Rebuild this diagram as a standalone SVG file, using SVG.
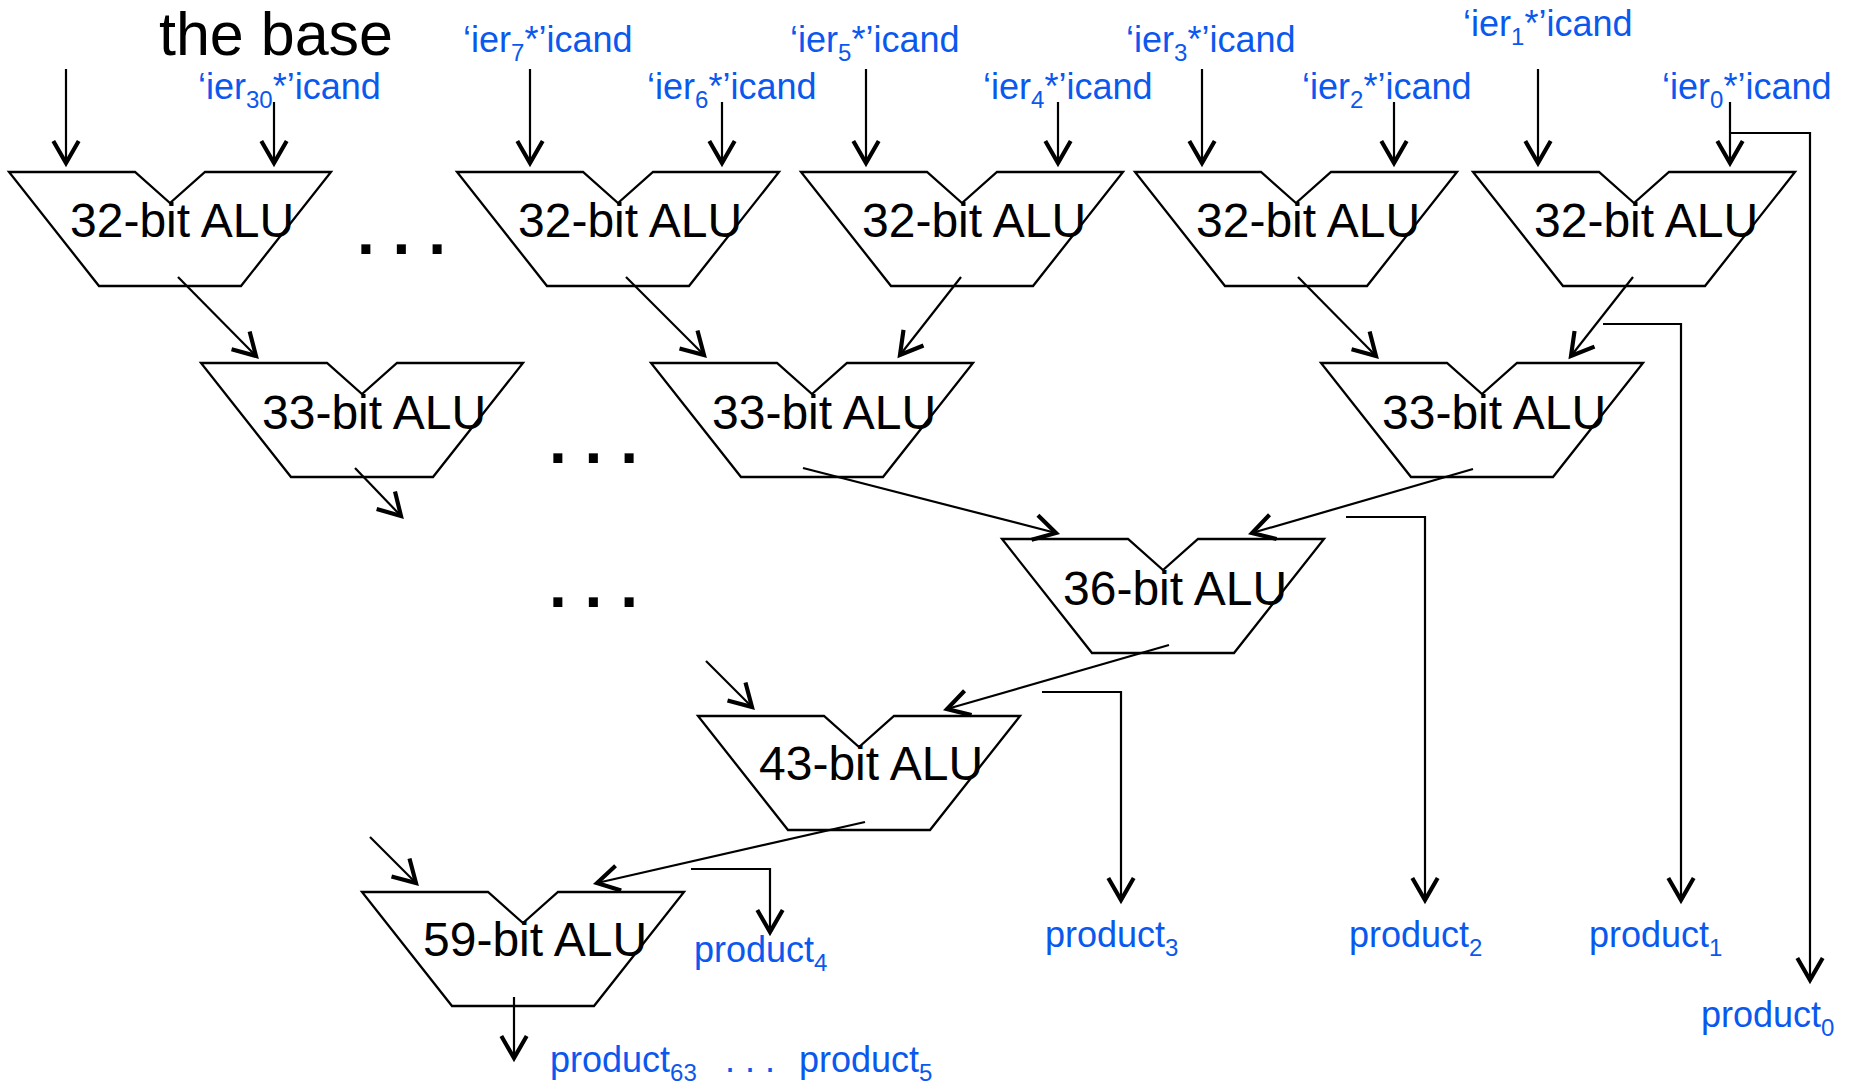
<svg xmlns="http://www.w3.org/2000/svg" xmlns:xlink="http://www.w3.org/1999/xlink" width="1855" height="1084" viewBox="0 0 1855 1084">
<style>
.alu{fill:none;stroke:#000;stroke-width:2.3;stroke-linejoin:miter}
.t{font-family:"Liberation Sans",Arial,sans-serif;font-size:48px;fill:#000}
.lbl{font-family:"Liberation Sans",Arial,sans-serif;font-size:36px;fill:#0A58EE}
.sub{font-size:24px}
.dots{font-family:"Liberation Sans",Arial,sans-serif;font-size:64px;font-weight:bold;fill:#000}
.c{fill:none;stroke:#000;stroke-width:2.2}
.a{marker-end:url(#ah)}
</style>
<defs>
<path id="alu" d="M0,0 H126 L161,31 L196,0 H322 L232,114 H90 Z"/>
<marker id="ah" markerUnits="userSpaceOnUse" markerWidth="30" markerHeight="30" viewBox="-22 -13 26 26" refX="0" refY="0" orient="auto">
<path d="M-19,-11 L0,0 L-19,11" fill="none" stroke="#000" stroke-width="3.6"/>
</marker>
</defs>
<rect width="1855" height="1084" fill="#fff"/>

<g id="labels">
<text class="t" x="159" y="55" style="font-size:61px">the base</text>
<text class="lbl" x="463" y="52">‘ier<tspan class="sub" dy="9">7</tspan><tspan dy="-9">*’icand</tspan></text>
<text class="lbl" x="198" y="99">‘ier<tspan class="sub" dy="9">30</tspan><tspan dy="-9">*’icand</tspan></text>
<text class="lbl" x="790" y="52">‘ier<tspan class="sub" dy="9">5</tspan><tspan dy="-9">*’icand</tspan></text>
<text class="lbl" x="647" y="99">‘ier<tspan class="sub" dy="9">6</tspan><tspan dy="-9">*’icand</tspan></text>
<text class="lbl" x="1126" y="52">‘ier<tspan class="sub" dy="9">3</tspan><tspan dy="-9">*’icand</tspan></text>
<text class="lbl" x="983" y="99">‘ier<tspan class="sub" dy="9">4</tspan><tspan dy="-9">*’icand</tspan></text>
<text class="lbl" x="1463" y="36">‘ier<tspan class="sub" dy="9">1</tspan><tspan dy="-9">*’icand</tspan></text>
<text class="lbl" x="1302" y="99">‘ier<tspan class="sub" dy="9">2</tspan><tspan dy="-9">*’icand</tspan></text>
<text class="lbl" x="1662" y="99">‘ier<tspan class="sub" dy="9">0</tspan><tspan dy="-9">*’icand</tspan></text>
<text class="lbl" x="694" y="962">product<tspan class="sub" dy="9">4</tspan></text>
<text class="lbl" x="1045" y="947">product<tspan class="sub" dy="9">3</tspan></text>
<text class="lbl" x="1349" y="947">product<tspan class="sub" dy="9">2</tspan></text>
<text class="lbl" x="1589" y="947">product<tspan class="sub" dy="9">1</tspan></text>
<text class="lbl" x="1701" y="1027">product<tspan class="sub" dy="9">0</tspan></text>
<text class="lbl" x="550" y="1072">product<tspan class="sub" dy="9">63</tspan></text>
<text class="lbl" x="725" y="1072">. . .</text>
<text class="lbl" x="799" y="1072">product<tspan class="sub" dy="9">5</tspan></text>
<text class="dots" x="357" y="254">. . .</text>
<text class="dots" x="549" y="463">. . .</text>
<text class="dots" x="549" y="607">. . .</text>
</g>

<g id="alu32-1"><use xlink:href="#alu" class="alu" x="9" y="172"/><text class="t" x="70" y="237">32-bit ALU</text></g>
<g id="alu32-2"><use xlink:href="#alu" class="alu" x="457" y="172"/><text class="t" x="518" y="237">32-bit ALU</text></g>
<g id="alu32-3"><use xlink:href="#alu" class="alu" x="801" y="172"/><text class="t" x="862" y="237">32-bit ALU</text></g>
<g id="alu32-4"><use xlink:href="#alu" class="alu" x="1135" y="172"/><text class="t" x="1196" y="237">32-bit ALU</text></g>
<g id="alu32-5"><use xlink:href="#alu" class="alu" x="1473" y="172"/><text class="t" x="1534" y="237">32-bit ALU</text></g>
<g id="alu33-1"><use xlink:href="#alu" class="alu" x="201" y="363"/><text class="t" x="262" y="429">33-bit ALU</text></g>
<g id="alu33-2"><use xlink:href="#alu" class="alu" x="651" y="363"/><text class="t" x="712" y="429">33-bit ALU</text></g>
<g id="alu33-3"><use xlink:href="#alu" class="alu" x="1321" y="363"/><text class="t" x="1382" y="429">33-bit ALU</text></g>
<g id="alu36"><use xlink:href="#alu" class="alu" x="1002" y="539"/><text class="t" x="1063" y="605">36-bit ALU</text></g>
<g id="alu43"><use xlink:href="#alu" class="alu" x="698" y="716"/><text class="t" x="759" y="780">43-bit ALU</text></g>
<g id="alu59"><use xlink:href="#alu" class="alu" x="362" y="892"/><text class="t" x="423" y="956">59-bit ALU</text></g>

<g id="connectors">
<path class="c a" d="M66,69 V163"/>
<path class="c a" d="M274,102 V163"/>
<path class="c a" d="M530,69 V163"/>
<path class="c a" d="M722,102 V163"/>
<path class="c a" d="M866,69 V163"/>
<path class="c a" d="M1058,102 V163"/>
<path class="c a" d="M1202,69 V163"/>
<path class="c a" d="M1394,102 V163"/>
<path class="c a" d="M1538,69 V163"/>
<path class="c a" d="M1730,102 V163"/>
<path class="c a" d="M1730,133 H1810 V980"/>
<path class="c a" d="M178,277 L256,356"/>
<path class="c a" d="M626,277 L704,355"/>
<path class="c a" d="M961,277 L900,355"/>
<path class="c a" d="M1298,277 L1376,356"/>
<path class="c a" d="M1633,277 L1571,356"/>
<path class="c a" d="M1603,324 H1681 V900"/>
<path class="c a" d="M355,468 L401,516"/>
<path class="c a" d="M803,468 L1056,533"/>
<path class="c a" d="M1473,469 L1252,533"/>
<path class="c a" d="M1346,517 H1425 V900"/>
<path class="c a" d="M1169,645 L947,709"/>
<path class="c a" d="M706,661 L752,707"/>
<path class="c a" d="M1042,692 H1121 V900"/>
<path class="c a" d="M865,822 L597,883"/>
<path class="c a" d="M370,837 L416,883"/>
<path class="c a" d="M691,869 H770 V932"/>
<path class="c a" d="M514,997 V1058"/>
</g>
</svg>
